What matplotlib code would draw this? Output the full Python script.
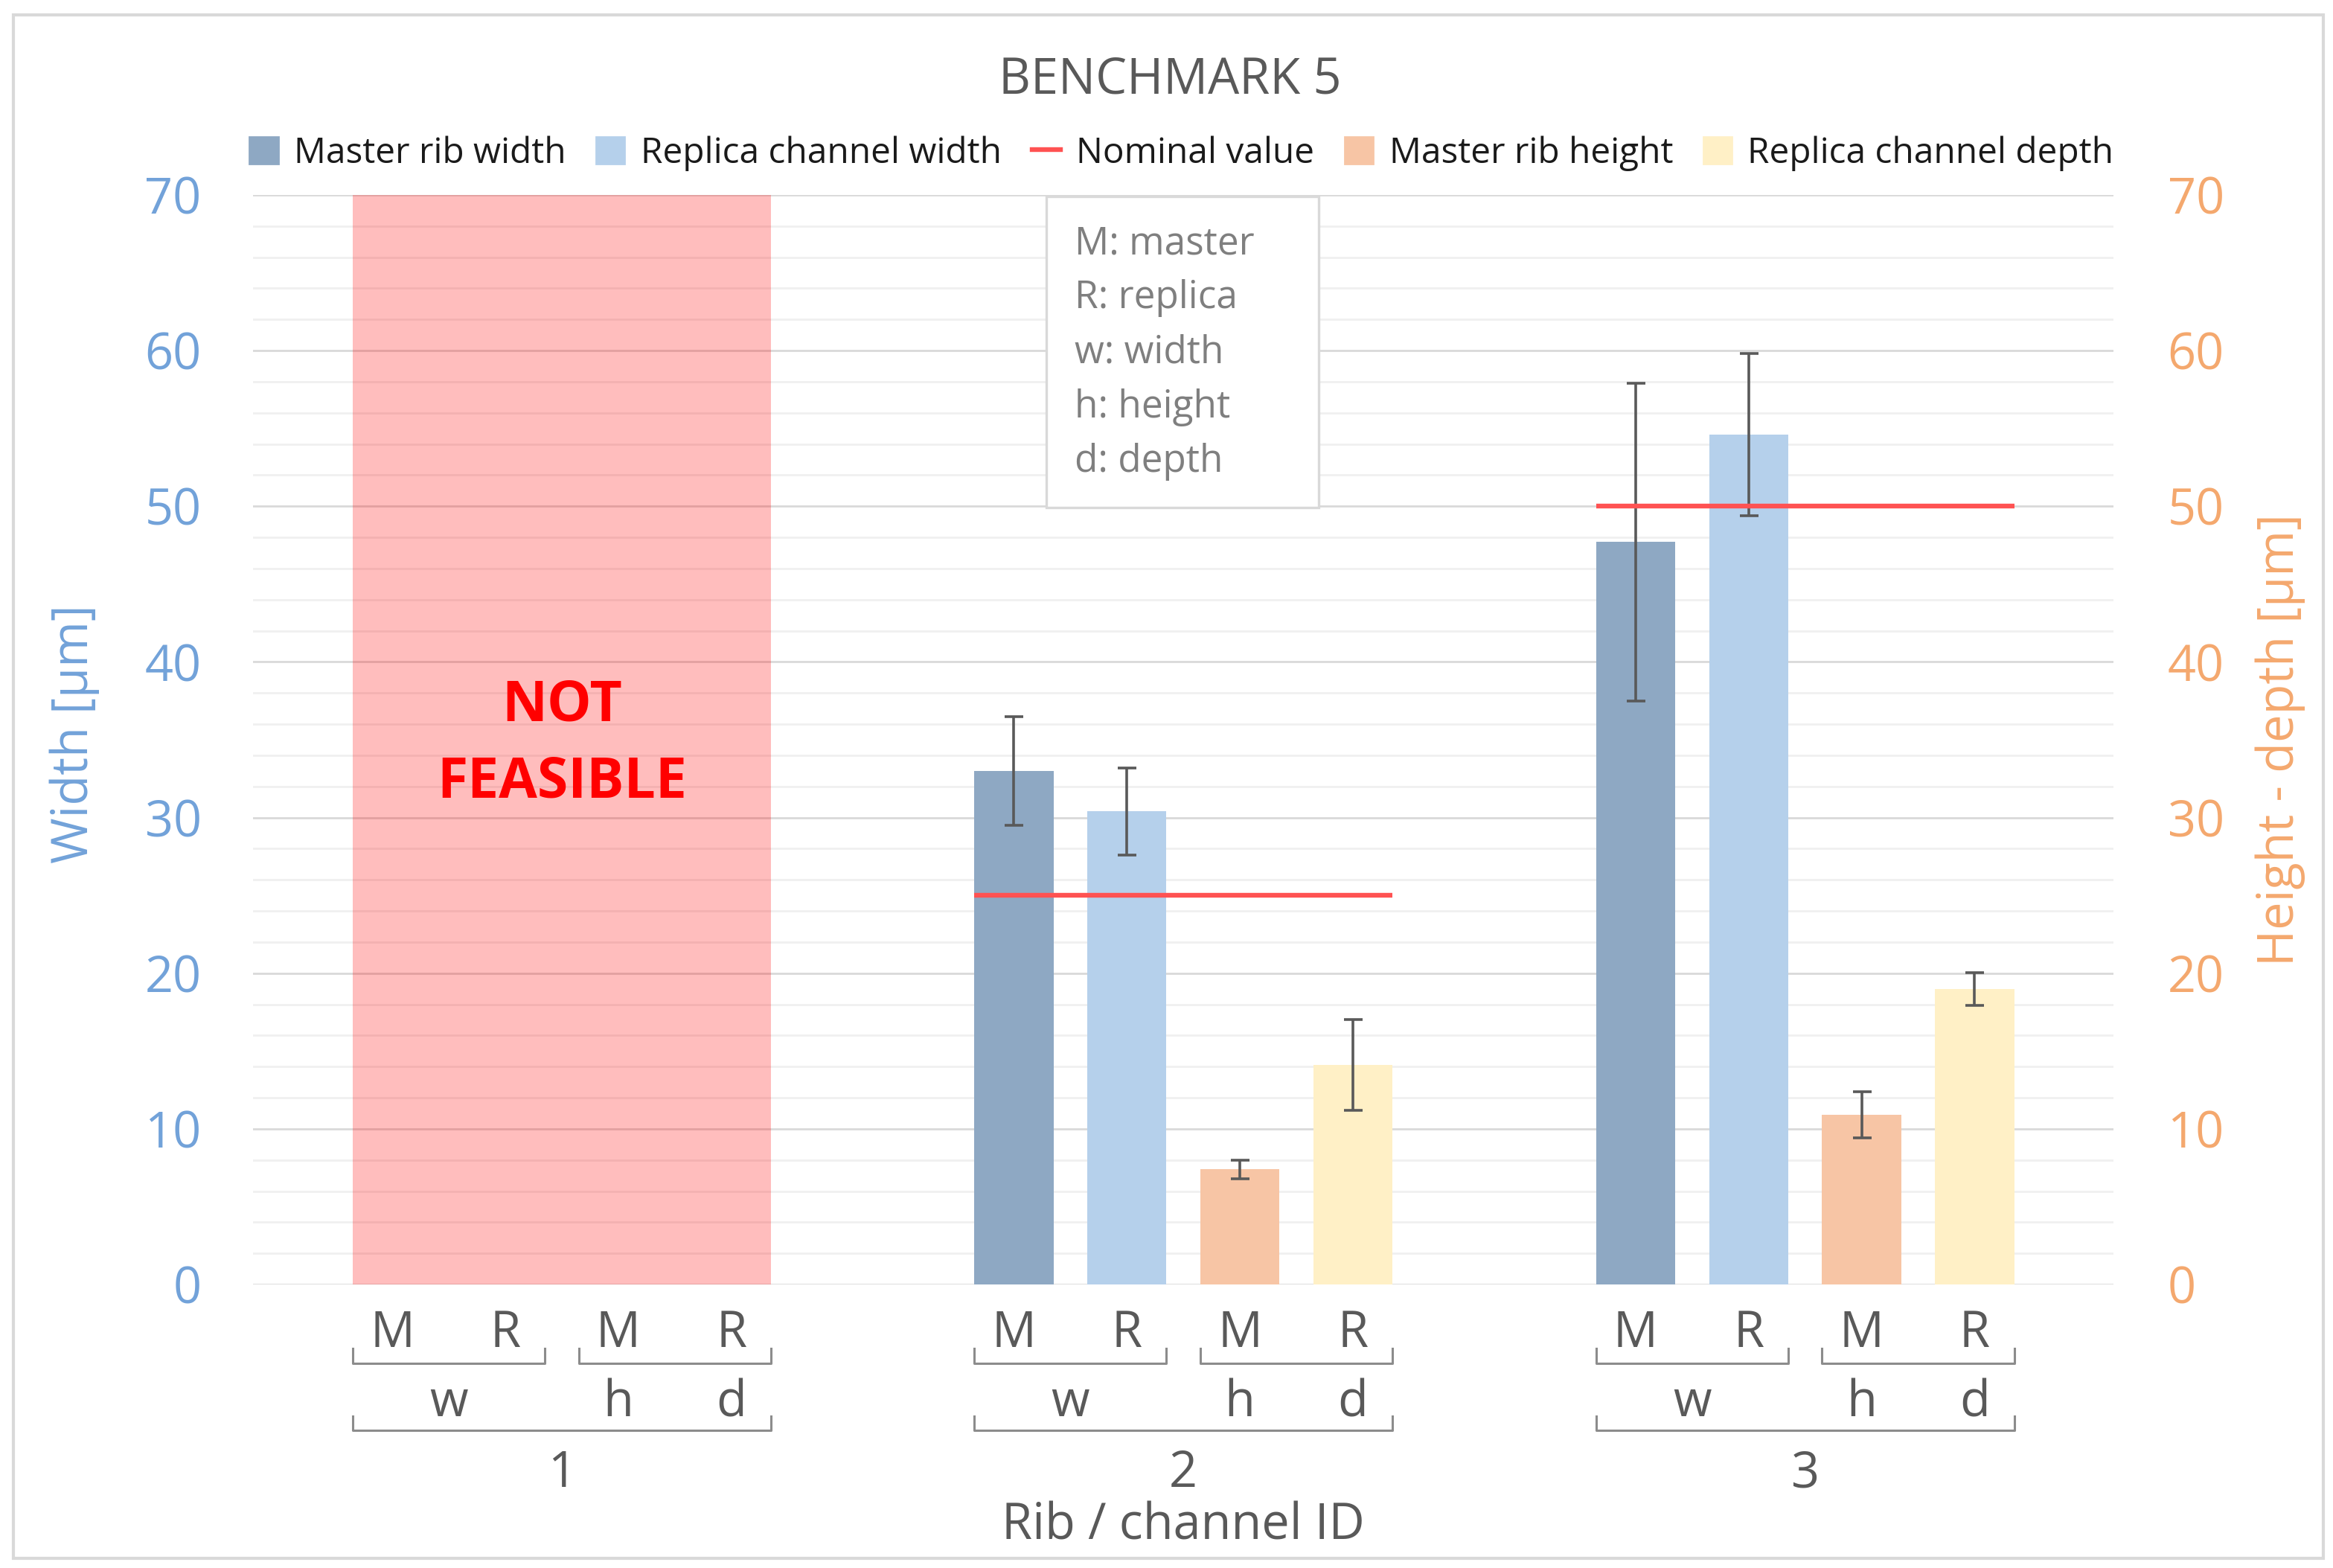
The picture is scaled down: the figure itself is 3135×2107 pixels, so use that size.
import numpy as np
import matplotlib.pyplot as plt
from matplotlib.patches import Patch, Rectangle
from matplotlib.lines import Line2D
from matplotlib.ticker import MultipleLocator

plt.rcParams['font.family'] = ['Open Sans', 'DejaVu Sans']

# data (µm), rib 1 was not feasible
rib_ids = ['1', '2', '3']
master_width = [np.nan, 33.0, 47.7]
master_width_err = [np.nan, 3.5, 10.2]
replica_width = [np.nan, 30.4, 54.6]
replica_width_err = [np.nan, 2.8, 5.2]
master_height = [np.nan, 7.4, 10.9]
master_height_err = [np.nan, 0.6, 1.5]
replica_depth = [np.nan, 14.1, 19.0]
replica_depth_err = [np.nan, 2.9, 1.05]
nominal_width = [np.nan, 25.0, 50.0]

bar_labels = ['M', 'R', 'M', 'R']
quantity_labels = ['w', 'h', 'd']
legend_notes = ['M: master', 'R: replica', 'w: width', 'h: height', 'd: depth']

# colours
c_mw = '#8EA8C3'
c_rw = '#B5D0EB'
c_mh = '#F7C5A5'
c_rd = '#FFF0C6'
c_nom = '#FF5252'
c_left = '#72A2D9'
c_right = '#F4A86E'
c_grey = '#595959'

fig = plt.figure(figsize=(15.675, 10.535), dpi=200)
ax = fig.add_axes([0.1085, 0.1808, 0.7975, 0.6949])
ax2 = ax.twinx()

group_pos = np.arange(len(rib_ids)) * 5.5
w = 0.7
err_kw = dict(ecolor='#595959', elinewidth=1.3, capsize=4.5, capthick=1.3)

ax.bar(group_pos + 0, master_width, w, yerr=master_width_err, color=c_mw,
       error_kw=err_kw, zorder=3)
ax.bar(group_pos + 1, replica_width, w, yerr=replica_width_err, color=c_rw,
       error_kw=err_kw, zorder=3)
ax2.bar(group_pos + 2, master_height, w, yerr=master_height_err, color=c_mh,
        error_kw=err_kw, zorder=3)
ax2.bar(group_pos + 3, replica_depth, w, yerr=replica_depth_err, color=c_rd,
        error_kw=err_kw, zorder=3)
ax2.hlines(nominal_width, group_pos - w / 2, group_pos + 3 + w / 2,
           color=c_nom, lw=2.3, zorder=4)

# not feasible block over rib 1
ax2.axvspan(group_pos[0] - w / 2, group_pos[0] + 3 + w / 2, color='#FF0000',
            alpha=0.26, lw=0, zorder=2)
ax2.text(group_pos[0] + 1.5, 34.7, 'NOT\nFEASIBLE', color='#FF0000', fontsize=27,
         fontweight='bold', ha='center', va='center', linespacing=1.5, zorder=5)

for a in (ax, ax2):
    a.set_ylim(0, 70)
    a.set_xlim(-1.23, group_pos[-1] + 3 + 1.23)
    for s in a.spines.values():
        s.set_visible(False)
    a.yaxis.set_major_locator(MultipleLocator(10))
    a.tick_params(axis='y', length=0, labelsize=24)
    a.set_xticks([])

ax.tick_params(axis='y', colors=c_left, pad=25)
ax2.tick_params(axis='y', colors=c_right, pad=26)
ax.yaxis.set_minor_locator(MultipleLocator(2))
ax.tick_params(axis='y', which='minor', length=0)
ax.grid(True, axis='y', which='major', color='#D9D9D9', lw=1.0, zorder=0)
ax.grid(True, axis='y', which='minor', color='#F0F0F0', lw=1.0, zorder=0)
ax.set_axisbelow(True)

ax.text(-0.096, 0.505, 'Width [µm]', transform=ax.transAxes, rotation=90,
        ha='center', va='center', fontsize=24, color=c_left)
ax.text(1.0896, 0.5, 'Height - depth [µm]', transform=ax.transAxes, rotation=90,
        ha='center', va='center', fontsize=24, color=c_right)

# abbreviation box
ax2.add_patch(Rectangle((0.4264, 0.713), 0.1464, 0.2856, transform=ax2.transAxes,
                        facecolor='white', edgecolor='#D9D9D9', lw=1.2, zorder=6))
for k, note in enumerate(legend_notes):
    ax2.text(0.4416, 0.9549 - k * 0.0499, note, transform=ax2.transAxes,
             fontsize=18.5, color='#7F7F7F', ha='left', va='center', zorder=7)

# multi-level category axis
tr = ax.get_xaxis_transform()
bk = dict(color='#8C8C8C', lw=1.1, transform=tr, clip_on=False)
for g, gp in enumerate(group_pos):
    for i, lab in enumerate(bar_labels):
        ax.text(gp + i, -0.0574, lab, transform=tr, ha='center', va='baseline',
                fontsize=24, color=c_grey)
    for pc in (gp + 0.5, gp + 2.5):
        ax.plot([pc - 0.85, pc - 0.85, pc + 0.85, pc + 0.85],
                [-0.0587, -0.0724, -0.0724, -0.0587], **bk)
    for xq, lab in zip([gp + 0.5, gp + 2, gp + 3], quantity_labels):
        ax.text(xq, -0.1209, lab, transform=tr, ha='center', va='baseline',
                fontsize=24, color=c_grey)
    ax.plot([gp - w / 2, gp - w / 2, gp + 3 + w / 2, gp + 3 + w / 2],
            [-0.1209, -0.1339, -0.1339, -0.1209], **bk)
    ax.text(gp + 1.5, -0.1858, rib_ids[g], transform=tr, ha='center',
            va='baseline', fontsize=24, color=c_grey)
ax.text(0.5, -0.2336, 'Rib / channel ID', transform=ax.transAxes, ha='center',
        va='baseline', fontsize=24, color=c_grey)

fig.text(0.5015, 0.9487, 'BENCHMARK 5', ha='center', va='center', fontsize=24,
         color=c_grey)

handles = [Patch(color=c_mw), Patch(color=c_rw), Line2D([], [], color=c_nom, lw=2.3),
           Patch(color=c_mh), Patch(color=c_rd)]
labels = ['Master rib width', 'Replica channel width', 'Nominal value',
          'Master rib height', 'Replica channel depth']
fig.legend(handles, labels, loc='center', bbox_to_anchor=(0.5065, 0.9022), ncol=5,
           frameon=False, fontsize=17.2, handlelength=0.8, handleheight=0.8,
           handletextpad=0.45, columnspacing=0.85, labelcolor='#1A1A1A')

fig.patches.append(Rectangle((0.0057, 0.0062), 0.9902, 0.9843, transform=fig.transFigure,
                             fill=False, edgecolor='#D9D9D9', lw=1.5))

fig.savefig('out.png', dpi=200)
